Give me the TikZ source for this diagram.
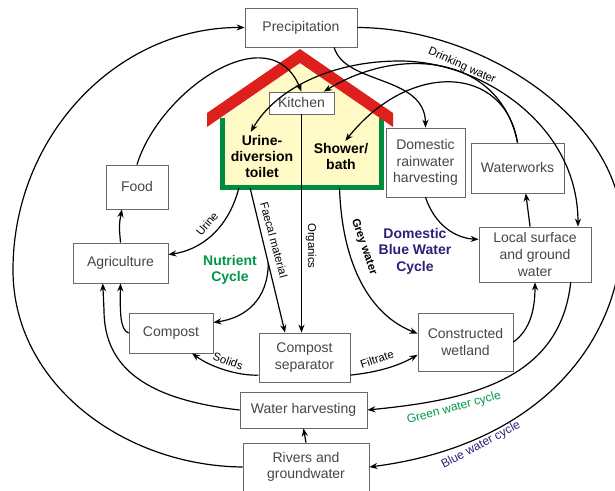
\documentclass[tikz,border=0pt]{standalone}
\usepackage{fontspec}
\setmainfont{Liberation Sans}
\usepackage{tikz}
\usetikzlibrary{arrows.meta}

\definecolor{boxgray}{RGB}{105,105,105}
\definecolor{txtgray}{RGB}{70,70,70}
\definecolor{roofred}{RGB}{222,32,28}
\definecolor{wallgreen}{RGB}{0,140,62}
\definecolor{houseyellow}{RGB}{255,250,198}
\definecolor{nutgreen}{RGB}{0,150,72}
\definecolor{cycblue}{RGB}{42,34,120}

\begin{document}
\begin{tikzpicture}[x=0.75pt,y=0.75pt,yscale=-1,xscale=1,
  box/.style={draw=boxgray, line width=0.6pt, fill=white, text=txtgray, align=center, inner sep=1pt, font=\fontsize{10.5}{12.5}\selectfont},
  flow/.style={line width=0.9pt, -{Stealth[length=6pt,width=4.6pt]}},
  twoway/.style={line width=0.9pt, {Stealth[length=6pt,width=4.6pt]}-{Stealth[length=6pt,width=4.6pt]}},
  lab/.style={inner sep=0pt, font=\fontsize{8.5}{10}\selectfont},
  cyc/.style={inner sep=0pt, align=center, font=\bfseries\fontsize{10.5}{12.3}\selectfont},
  room/.style={inner sep=2pt, align=center, font=\bfseries\fontsize{10.5}{12}\selectfont}]
\useasboundingbox (0,0) rectangle (615,491);

%Shape: House
\node [fill=houseyellow, inner sep=0pt, outer sep=0pt, minimum width=119.25pt, minimum height=52.5pt] (house) at (302,153) {};
\fill [houseyellow] (house.north west) -- (300,63) -- (house.north east) -- cycle;
\draw [wallgreen, line width=3.75pt] (house.north west) -- (house.south west) -- (house.south east) -- (house.north east);
\fill [roofred] (207,113) -- (300,49) -- (393,113) -- (393,127) -- (300,63) -- (207,127) -- cycle;

% Text Node
\node [room] (toi) at (262,156) {Urine-\\diversion\\toilet};
\node [room] (shw) at (341,157) {Shower/\\bath};

% Boxes
\node [box, minimum width=84pt, minimum height=29.25pt] (prec) at (301,27.5) {Precipitation};
\node [box, minimum width=48.75pt, minimum height=16.5pt] (kit) at (301.5,103) {Kitchen};
\node [box, minimum width=59.25pt, minimum height=51.75pt] (dom) at (425.5,162.5) {Domestic\\rainwater\\harvesting};
\node [box, minimum width=69.75pt, minimum height=37.5pt] (ww) at (517.5,168) {Waterworks};
\node [box, minimum width=84pt, minimum height=41.25pt] (ls) at (535,254.5) {Local surface\\and ground\\water};
\node [box, minimum width=46.5pt, minimum height=33pt] (food) at (137,187) {Food};
\node [box, minimum width=71.25pt, minimum height=30pt] (agr) at (120.5,263) {Agriculture};
\node [box, minimum width=63pt, minimum height=30pt] (comp) at (171,333) {Compost};
\node [box, minimum width=68.25pt, minimum height=36.75pt] (sep) at (304.5,357.5) {Compost\\separator};
\node [box, minimum width=71.25pt, minimum height=43.5pt] (cw) at (465.5,342) {Constructed\\wetland};
\node [box, minimum width=95.25pt, minimum height=27pt] (wh) at (303.5,410) {Water harvesting};
\node [box, minimum width=94.5pt, minimum height=36pt] (riv) at (306,467) {Rivers and\\groundwater};

%Curve Lines: outer water cycle
\draw [flow] (riv.west) .. controls (125,466) and (13,385) .. (13,270) .. controls (13,136) and (117,27) .. (prec.west);
\draw [flow] (wh.west) .. controls (150,400) and (104,370) .. (104,310) -- (agr.229);
\draw [flow] (comp.west) .. controls (120,330) and (120,312) .. (agr.south);
\draw [flow] (agr.north) .. controls (119,225) .. (food.236);
\draw [flow] (food.north) .. controls (160,90) and (270,15) .. (kit.north);
\draw [flow] (prec.-31) .. controls (345,85) and (425,75) .. (dom.north);
\draw [flow] (prec.east) .. controls (482,28) and (618,118) .. (622,225) .. controls (625,340) and (540,445) .. (riv.east);
\draw [flow] (ls.-38) .. controls (560,380) and (470,400) .. (wh.east);
\draw [flow] (riv.north) -- (wh.south);

%Curve Lines: drinking water
\draw [twoway] (toi.115) .. controls (275,90) and (330,61) .. (400,61) .. controls (480,61) and (578,124) .. (ls.33);
\draw [flow] (ww.north) .. controls (500,55) and (400,45) .. (kit.27);
\draw [flow] (ww.north) .. controls (505,65) and (410,60) .. (shw.75);

%Curve Lines: domestic blue water
\draw [flow] (dom.south) .. controls (435,225) and (455,238) .. (ls.165);
\draw [flow] (ls.100) -- (ww.-72);
\draw [flow] (cw.east) .. controls (530,330) and (535,310) .. (ls.south);
\draw [flow] (house.-43) .. controls (342,265) and (370,315) .. (cw.170);
\draw [flow] (sep.-21) .. controls (380,372) and (400,365) .. (cw.195);

%Curve Lines: nutrient cycle
\draw [flow] (house.209) .. controls (228,230) and (200,250) .. (agr.10);
\draw [flow] (house.214) -- coordinate[pos=0.52] (fmid) (sep.128);
\draw [flow] (fmid) .. controls (268,300) and (245,318) .. (comp.14);
\draw [flow] (kit.south) -- (kit.south |- sep.north);
\draw [flow] (sep.201) .. controls (240,376) and (212,368) .. (comp.-44);

% Text Node
\node [lab, rotate=-24] (ldrink) at (462,66) {Drinking water};
\node [lab, rotate=50] (lurine) at (207,224) {Urine};
\node [lab, rotate=-75] (lfaecal) at (274,240) {Faecal material};
\node [lab, rotate=-90] (lorg) at (311,246) {Organics};
\node [lab, rotate=-71, font=\bfseries\fontsize{8.5}{10}\selectfont] (lgrey) at (364,247) {Grey water};
\node [lab, rotate=-20] (lsolids) at (228,361) {Solids};
\node [lab, rotate=18] (lfiltrate) at (377,359) {Filtrate};
\node [lab, rotate=15, text=nutgreen, font=\fontsize{9}{10}\selectfont] (lgreen) at (454,408) {Green water cycle};
\node [lab, rotate=28, text=cycblue, font=\fontsize{9}{10}\selectfont] (lblue) at (481,445) {Blue water cycle};
\node [cyc, text=nutgreen] (nutcyc) at (230,270) {Nutrient\\Cycle};
\node [cyc, text=cycblue] (dbw) at (415,251) {Domestic\\Blue Water\\Cycle};

\end{tikzpicture}
\end{document}
